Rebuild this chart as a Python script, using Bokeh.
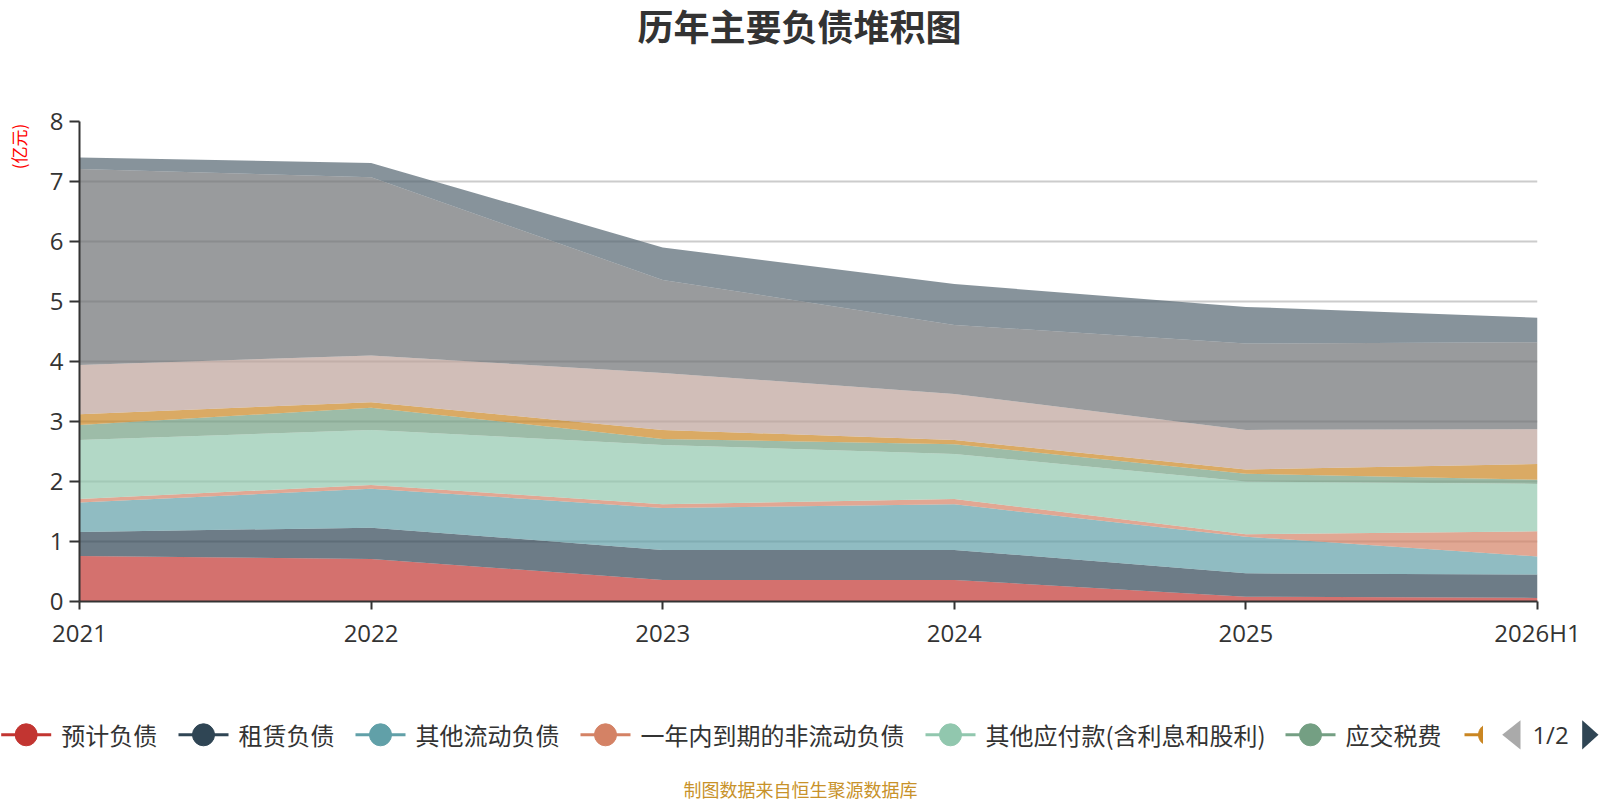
import math
import numpy as np
from bokeh.plotting import figure
from bokeh.models import Range1d, FixedTicker, ColumnDataSource
from bokeh.layouts import column, row
from bokeh.embed import file_html
from bokeh.resources import INLINE
from bokeh.core.properties import value

# ---------------- data (亿元) ----------------
periods = ["2021", "2022", "2023", "2024", "2025", "2026H1"]
series_names = ["预计负债", "租赁负债", "其他流动负债", "一年内到期的非流动负债",
                "其他应付款(含利息和股利)", "应交税费", "应付职工薪酬", "合同负债",
                "应付账款", "应付票据"]
yuji_fuzhai = [0.76, 0.71, 0.36, 0.36, 0.08, 0.06]
zulin_fuzhai = [0.40, 0.52, 0.50, 0.50, 0.39, 0.39]
qita_liudong = [0.49, 0.65, 0.70, 0.76, 0.61, 0.30]
yinian_daoqi = [0.06, 0.06, 0.06, 0.09, 0.04, 0.42]
qita_yingfu = [0.98, 0.92, 0.99, 0.75, 0.88, 0.79]
yingjiao_shuifei = [0.25, 0.37, 0.10, 0.16, 0.13, 0.07]
zhigong_xinchou = [0.18, 0.09, 0.15, 0.07, 0.07, 0.26]
hetong_fuzhai = [0.82, 0.78, 0.95, 0.77, 0.66, 0.58]
yingfu_zhangkuan = [3.27, 2.97, 1.55, 1.15, 1.44, 1.45]
yingfu_piaoju = [0.19, 0.24, 0.54, 0.68, 0.61, 0.41]
y_ticks = [0, 1, 2, 3, 4, 5, 6, 7, 8]

series_values = [yuji_fuzhai, zulin_fuzhai, qita_liudong, yinian_daoqi, qita_yingfu,
                 yingjiao_shuifei, zhigong_xinchou, hetong_fuzhai, yingfu_zhangkuan,
                 yingfu_piaoju]
colors = ['#c23531', '#2f4554', '#61a0a8', '#d48265', '#91c7ae', '#749f83',
          '#ca8622', '#bda29a', '#6e7074', '#546570']

CJK = "Noto Sans CJK SC"
TXT = "#333333"


def strip(w, h):
    f = figure(width=w, height=h, x_range=Range1d(0, w), y_range=Range1d(0, h),
               output_backend="svg", toolbar_location=None, min_border=0,
               x_axis_type=None, y_axis_type=None, frame_align=False)
    f.outline_line_color = None
    f.grid.visible = False
    return f


# ---------------- title strip ----------------
TH = 70
top = strip(1600, TH)
top.text(x=[799], y=[TH - 24], text=["历年主要负债堆积图"], text_font=value(CJK),
         text_font_size="36px", text_font_style="bold", text_color=TXT,
         text_align="center", text_baseline="middle")

# ---------------- unit strip ----------------
RH = 630
UW = 40
unit = strip(UW, RH)
unit.text(x=[17.5], y=[RH - 76], text=["(亿元)"], text_font=value(CJK),
          text_font_size="17px", text_color="#ff0000", angle=math.pi / 2,
          text_align="center", text_baseline="middle")

# ---------------- main chart ----------------
p = figure(width=1600 - UW, height=RH, x_range=Range1d(0, len(periods) - 1),
           y_range=Range1d(0, 8), output_backend="svg", toolbar_location=None,
           min_border_left=39, min_border_right=63, min_border_top=51,
           min_border_bottom=99, frame_align=False)
p.outline_line_color = None

keys = ["s%d" % i for i in range(len(series_values))]
data = {"x": list(range(len(periods)))}
for k, v in zip(keys, series_values):
    data[k] = v
source = ColumnDataSource(data)
p.varea_stack(stackers=keys, x="x", color=colors, fill_alpha=0.7, source=source)

p.xaxis.ticker = FixedTicker(ticks=list(range(len(periods))))
p.xaxis.major_label_overrides = {i: lbl for i, lbl in enumerate(periods)}
p.yaxis.ticker = FixedTicker(ticks=y_ticks)
for ax in (p.xaxis, p.yaxis):
    ax.axis_line_color = TXT
    ax.axis_line_width = 2
    ax.major_tick_line_color = TXT
    ax.major_tick_line_width = 2
    ax.major_tick_in = 0
    ax.minor_tick_line_color = None
    ax.major_label_text_font = "Open Sans"
    ax.major_label_text_font_size = "24px"
    ax.major_label_text_color = TXT
    ax.major_label_standoff = 6
p.xaxis.major_tick_out = 8
p.yaxis.major_tick_out = 10
p.xgrid.visible = False
p.ygrid.grid_line_color = "#cccccc"
p.ygrid.grid_line_width = 2

# ---------------- legend / footer strip ----------------
LH = 100
leg = strip(1600, LH)
ly = LH - 34.3
icon_cx = [25.7, 203, 380, 605, 950, 1310]
for i, cx in enumerate(icon_cx):
    leg.segment(x0=[cx - 25], y0=[ly], x1=[cx + 25], y1=[ly], line_color=colors[i], line_width=3)
    leg.scatter(x=[cx], y=[ly], size=22, marker="circle", fill_color=colors[i], line_color=colors[i])
    leg.text(x=[cx + 35], y=[ly], text=[series_names[i]], text_font=value(CJK),
             text_font_size="24px", text_color=TXT, text_align="left", text_baseline="middle")

# partially visible 7th item (cut off by legend paging)
cx7, cut = 1489, 1482
leg.segment(x0=[cx7 - 25], y0=[ly], x1=[cx7 - 10], y1=[ly], line_color=colors[6], line_width=3)
r = 11
a0 = math.acos((cut - cx7) / r)
th = np.linspace(a0, 2 * math.pi - a0, 40)
leg.patch(x=list(cx7 + r * np.cos(th)), y=list(ly + r * np.sin(th)), fill_color=colors[6],
          line_color=colors[6])

# paging controls
lx = 1501.7
leg.patch(x=[lx, lx + 18.3, lx + 18.3], y=[ly, ly + 14.6, ly - 14.6], fill_color="#aaaaaa", line_color=None)
leg.text(x=[1550], y=[ly], text=["1/2"], text_font=value("Open Sans"), text_font_size="24px",
         text_color=TXT, text_align="center", text_baseline="middle")
rx = 1581.7
leg.patch(x=[rx, rx + 16.3, rx], y=[ly + 14.6, ly, ly - 14.6], fill_color="#2f4554", line_color=None)

leg.text(x=[800], y=[12], text=["制图数据来自恒生聚源数据库"], text_font=value(CJK),
         text_font_size="18px", text_color="#c8922a", text_align="center", text_baseline="middle")

layout = column(top, row(unit, p, spacing=0), leg, spacing=0)
open("out.html", "w").write(file_html(layout, INLINE))
